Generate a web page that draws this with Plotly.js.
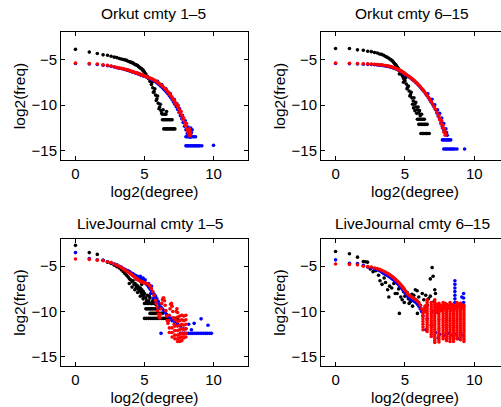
<!DOCTYPE html>
<html>
<head>
<meta charset="utf-8">
<script src="https://cdn.plot.ly/plotly-3.0.1.min.js"></script>
<style>
html,body{margin:0;padding:0;background:#fff;overflow:hidden;width:501px;height:407px;}
#plot{width:520px;height:407px;}
</style>
</head>
<body>
<div id="plot"></div>
<script>
// ---------- DATA ----------
// shared log2(degree) grid used by the main curves
const XG = [0,1,1.58,2,2.32,2.58,2.81,3,3.17,3.32,3.46,3.58,3.7,3.81,3.91,4,4.09,4.17,4.25,4.32,4.39,4.46,4.52,4.58,4.64,4.7,4.75,4.81,4.86,4.91,4.95,5,5.1,5.2,5.3,5.4,5.5,5.6,5.7,5.8,5.9,6,6.1,6.2,6.3,6.4,6.5,6.6,6.7,6.8,6.9,7,7.1,7.2,7.3,7.4,7.5,7.6,7.7,7.8,7.9,8,8.1,8.2,8.3];

const titles = ["Orkut cmty 1\u20135","Orkut cmty 6\u201315","LiveJournal cmty 1\u20135","LiveJournal cmty 6\u201315"];
const xTickVals = [0,5,10];
const yTickVals = [-15,-10,-5];

// Orkut cmty 1-5
const ork1_black_y = [-3.9,-4.2,-4.35,-4.5,-4.55,-4.65,-4.75,-4.8,-4.9,-4.95,-5.0,-5.05,-5.1,-5.2,-5.25,-5.3,-5.35,-5.4,-5.5,-5.55,-5.6,-5.65,-5.7,-5.8,-5.85,-5.95,-6.0,-6.05,-6.15,-6.2,-6.3,-6.4,-6.6,-6.85,-7.1,-7.4,-7.75,-8.1,-8.5,-8.9,-9.3,-9.8,-10.2,-10.6,-11.0];
const ork1_black_extra = [[5.55,-7.5],[5.65,-8.6],[5.75,-8.2],[5.85,-9.5],[5.95,-9.0],[6.05,-10.4],[6.15,-9.9],[6.25,-10.9],[6.35,-10.5],[6.45,-11.0],[6.55,-11.0],[6.6,-10.7]];
const ork1_black_bands = [[-11.6,[6.3,6.4,6.5,6.6,6.7,6.8,6.9,7.0]],[-12.6,[6.4,6.5,6.6,6.7,6.8,6.9,7.0,7.1,7.2]]];
const ork1_blue_y = [-5.45,-5.5,-5.55,-5.63,-5.68,-5.75,-5.83,-5.9,-5.96,-6.0,-6.05,-6.1,-6.15,-6.2,-6.25,-6.3,-6.35,-6.39,-6.43,-6.46,-6.5,-6.53,-6.56,-6.6,-6.63,-6.66,-6.69,-6.73,-6.76,-6.79,-6.81,-6.83,-6.9,-6.97,-7.03,-7.1,-7.17,-7.25,-7.34,-7.45,-7.56,-7.68,-7.81,-7.95,-8.09,-8.25,-8.41,-8.58,-8.76,-8.96,-9.17,-9.4,-9.65,-9.9,-10.18,-10.48,-10.8,-11.15,-11.5,-11.9,-12.3,-12.7,-13.1,-13.4,-13.5];
const ork1_blue_extra = [[5.95,-7.4],[6.25,-7.75],[6.55,-8.2],[6.85,-8.7],[7.15,-9.35],[7.35,-9.85],[7.55,-10.4],[7.75,-11.1],[7.95,-11.7],[8.15,-12.4],[8.35,-12.5],[8.45,-12.7],[8.4,-13.0],[10.0,-14.4]];
const ork1_blue_bands = [[-13.45,[8.0,8.1,8.2,8.3,8.4,8.5,8.6,8.7]],[-14.45,[8.0,8.1,8.2,8.3,8.4,8.5,8.6,8.7,8.8,8.9,9.0,9.15]]];
const ork1_red_y = [-5.4,-5.45,-5.5,-5.6,-5.65,-5.72,-5.8,-5.88,-5.93,-5.98,-6.02,-6.07,-6.12,-6.17,-6.22,-6.27,-6.32,-6.36,-6.4,-6.43,-6.47,-6.5,-6.53,-6.57,-6.6,-6.63,-6.66,-6.7,-6.73,-6.76,-6.78,-6.8,-6.86,-6.92,-6.98,-7.04,-7.1,-7.17,-7.25,-7.35,-7.45,-7.55,-7.67,-7.8,-7.93,-8.07,-8.22,-8.38,-8.55,-8.73,-8.93,-9.15,-9.38,-9.62,-9.88,-10.15,-10.45,-10.77,-11.1,-11.45,-11.85,-12.25,-12.65,-13.05,-13.35];
const ork1_red_extra = [[7.45,-10.05],[7.55,-10.8],[7.65,-10.7],[7.75,-11.5],[7.85,-11.4],[7.95,-12.2],[8.05,-12.0],[8.15,-12.9],[8.25,-12.6],[8.3,-12.9],[8.35,-13.2],[8.25,-13.3],[7.05,-9.4],[6.85,-8.9],[6.65,-8.5],[7.25,-9.85]];

// Orkut cmty 6-15
const ork2_black_y = [-3.8,-3.8,-3.95,-4.0,-4.1,-4.15,-4.25,-4.3,-4.4,-4.45,-4.55,-4.65,-4.75,-4.85,-4.95,-5.05,-5.15,-5.3,-5.45,-5.55,-5.7,-5.85,-6.0,-6.15,-6.3,-6.45,-6.6,-6.75,-6.9,-7.05,-7.2,-7.35,-7.7,-8.05,-8.45,-8.85,-9.2,-9.55,-9.9,-10.2,-10.5,-10.85,-11.15];
const ork2_black_extra = [[4.6,-6.6],[4.75,-6.3],[4.9,-7.5],[5.05,-7.0],[5.15,-8.2],[5.25,-7.9],[5.35,-9.0],[5.45,-8.6],[5.55,-9.9],[5.65,-9.2],[5.62,-10.3],[5.72,-10.6],[5.78,-9.7],[5.85,-10.9],[5.95,-10.2],[6.05,-10.6],[6.2,-11.0]];
const ork2_black_bands = [[-11.55,[5.9,6.0,6.1,6.2,6.3,6.4]],[-12.1,[6.0,6.1,6.2,6.3,6.4,6.5,6.6]],[-13.1,[6.15,6.25,6.35,6.45,6.55,6.65,6.75]]];
const ork2_blue_y = [-5.45,-5.47,-5.5,-5.52,-5.54,-5.55,-5.58,-5.6,-5.63,-5.65,-5.68,-5.71,-5.74,-5.77,-5.81,-5.85,-5.89,-5.93,-5.97,-6.01,-6.05,-6.1,-6.15,-6.2,-6.25,-6.3,-6.35,-6.41,-6.46,-6.51,-6.55,-6.6,-6.7,-6.8,-6.91,-7.03,-7.15,-7.27,-7.4,-7.55,-7.7,-7.85,-8.02,-8.2,-8.38,-8.57,-8.77,-8.98,-9.2,-9.43,-9.67,-9.93,-10.2,-10.5,-10.85,-11.2,-11.5,-11.9,-12.3,-12.7,-13.0];
const ork2_blue_extra = [[6.65,-8.75],[6.95,-9.35],[7.15,-9.95],[7.35,-10.5],[7.5,-10.9],[7.65,-11.4],[7.8,-12.0],[7.95,-12.6],[8.0,-13.0],[8.05,-13.3],[9.3,-14.8]];
const ork2_blue_bands = [[-13.8,[7.7,7.8,7.9,8.0,8.1,8.2,8.3]],[-14.8,[7.8,7.9,8.0,8.1,8.2,8.3,8.4,8.5,8.6,8.75]]];
const ork2_red_y = [-5.4,-5.42,-5.45,-5.47,-5.49,-5.5,-5.53,-5.55,-5.58,-5.6,-5.63,-5.66,-5.69,-5.72,-5.76,-5.8,-5.84,-5.88,-5.92,-5.96,-6.0,-6.05,-6.1,-6.15,-6.2,-6.25,-6.3,-6.36,-6.41,-6.46,-6.5,-6.55,-6.65,-6.75,-6.86,-6.98,-7.1,-7.22,-7.35,-7.5,-7.65,-7.8,-7.97,-8.15,-8.33,-8.52,-8.72,-8.93,-9.15,-9.38,-9.62,-9.88,-10.15,-10.45,-10.8,-11.2,-11.6,-12.05,-12.5,-12.95,-13.3];
const ork2_red_extra = [[7.65,-11.7],[7.75,-12.2],[7.85,-12.6],[7.9,-12.9],[7.95,-13.2],[7.45,-11.1],[7.55,-11.5]];

// LiveJournal cmty 1-5
const lj1_black_y = [-2.7,-3.5,-3.7,-4.35,-4.55,-4.7,-4.9,-5.05,-5.2,-5.4,-5.6,-5.8,-6.0,-6.2,-6.4,-6.5,-6.7,-6.6,-7.0,-6.9,-7.3,-7.1,-7.5,-7.3,-7.7,-7.4,-7.9,-7.6,-8.1,-7.8,-8.3,-8.0,-8.5,-8.2,-8.8,-8.5,-9.1,-8.8];
const lj1_black_extra = [[3.9,-6.9],[4.1,-7.3],[4.3,-7.6],[4.5,-7.9],[4.7,-8.3],[4.9,-8.6],[5.15,-8.8],[5.35,-8.3],[5.7,-8.6],[5.8,-9.2],[5.9,-8.9],[6.0,-9.5],[4.4,-6.4],[4.8,-7.0]];
const lj1_black_bands = [[-9.1,[5.0,5.1,5.2,5.3,5.4,5.5,5.6,5.7,5.8]],[-9.7,[5.1,5.2,5.3,5.4,5.5,5.6,5.7,5.8,5.9,6.0]],[-10.2,[5.4,5.5,5.6,5.7,5.8,5.9,6.0,6.1,6.2,6.3]],[-10.75,[5.0,5.15,5.3,5.45,5.6,5.75,5.9,6.05,6.2,6.35,6.5,6.65,6.8,6.95,7.1,7.25,7.4]]];
const lj1_blue_y = [-3.5,-4.15,-4.3,-4.35,-4.5,-4.6,-4.75,-4.85,-5.0,-5.1,-5.25,-5.35,-5.45,-5.5,-5.6,-5.7,-5.8,-5.85,-5.95,-6.0,-6.05,-6.1,-6.15,-6.2,-6.25,-6.3,-6.35,-6.4,-6.5,-6.55,-6.6,-6.65,-6.9,-7.1,-7.3,-7.5,-7.7,-7.9,-8.1,-8.3,-8.6,-8.9,-9.2,-9.5,-9.7,-9.9,-10.1,-10.3,-10.5,-10.6,-10.8,-11.0];
const lj1_blue_extra = [[5.3,-6.9],[5.5,-7.2],[5.45,-8.0],[5.65,-8.5],[5.85,-9.0],[6.05,-9.6],[4.7,-6.1],[4.9,-6.3],[5.05,-6.5],[7.2,-11.2],[7.4,-11.4],[7.6,-11.6],[7.8,-11.9],[8.0,-11.9],[8.2,-11.4],[8.6,-11.3],[9.1,-10.8],[9.6,-11.5],[6.2,-12.4],[8.4,-12.0]];
const lj1_blue_bands = [[-12.4,[7.6,7.75,7.9,8.05,8.2,8.35,8.5,8.65,8.8,8.95,9.1,9.25,9.4,9.55,9.7,9.85]]];
const lj1_red_y = [-4.2,-4.25,-4.33,-4.4,-4.5,-4.6,-4.75,-4.9,-5.0,-5.15,-5.3,-5.4,-5.55,-5.65,-5.75,-5.85,-5.95,-6.05,-6.15,-6.25,-6.35,-6.4,-6.5,-6.55,-6.6,-6.65,-6.7,-6.72,-6.75,-6.78,-6.8,-6.82,-6.88,-6.95,-7.05,-7.2,-7.45,-7.8,-8.2];
const lj1_red_extra = [[5.8,-8.75],[5.85,-9.1],[5.9,-9.5],[5.95,-9.9],[6.0,-10.3],[6.05,-10.6],[6.1,-10.7],[6.15,-10.3],[6.2,-9.7],[6.25,-9.1],[6.3,-8.7],[6.35,-8.5],[6.4,-8.5],[6.45,-8.8],[6.5,-9.3],[6.55,-9.9],[6.6,-10.5],[6.65,-11.0],[6.7,-11.3],[6.75,-11.0],[6.8,-10.4],[6.85,-9.7],[6.9,-9.2],[6.95,-9.1],[7.0,-9.4],[7.05,-10.0],[7.1,-10.7],[7.15,-11.4],[7.2,-11.6],[7.25,-10.9],[7.3,-10.0],[7.35,-9.7],[7.4,-10.1]];
const lj1_red_cols = [[6.8,[-11.8,-12.3]],[7.0,[-11.8,-12.3,-12.8]],[7.2,[-12.1,-12.6,-13.0]],[7.4,[-10.6,-11.1,-11.6,-12.1,-12.6,-13.0,-13.3]],[7.55,[-10.5,-11.0,-11.5,-12.0,-12.5,-12.9,-13.3]],[7.7,[-10.4,-10.9,-11.4,-11.9,-12.4,-12.8,-13.2]],[7.85,[-10.5,-11.0,-11.5,-12.0,-12.5,-12.9]],[8.0,[-10.4,-10.9,-11.4,-11.9,-12.4,-12.8]]];

// LiveJournal cmty 6-15
const lj2_black_y = [-3.37,-3.63,-4.0,-4.48];
const lj2_black_extra = [[2.15,-4.5],[2.3,-4.55],[2.5,-5.3],[2.7,-5.6],[2.9,-5.5],[3.1,-6.0],[3.2,-6.6],[3.35,-7.0],[3.5,-6.3],[3.6,-6.8],[3.75,-7.6],[3.84,-8.4],[3.9,-7.2],[4.05,-7.4],[4.2,-6.9],[4.3,-8.0],[4.44,-8.0],[4.55,-7.5],[4.6,-10.2],[4.7,-8.4],[4.8,-8.7],[4.9,-7.8],[5.0,-8.3],[5.16,-7.9],[5.25,-8.6],[5.4,-8.9],[5.5,-8.1],[5.64,-8.2],[5.75,-7.6],[5.88,-7.7],[5.9,-10.2],[6.0,-8.4],[6.12,-9.3],[6.25,-8.0],[6.36,-8.7],[6.5,-8.2],[6.6,-9.3],[6.7,-8.6],[6.83,-8.3],[6.83,-6.4],[6.96,-5.15],[7.03,-6.1],[7.1,-8.9],[7.2,-8.0],[7.3,-9.3],[7.15,-7.6],[5.3,-9.1],[5.55,-9.4],[4.95,-9.0],[6.45,-9.6]];
const lj2_blue_y = [-4.3,-4.67,-4.7,-4.9,-5.1,-5.2,-5.3,-5.4,-5.5,-5.65,-5.8,-5.9,-6.0,-6.1,-6.2,-6.3,-6.4,-6.5,-6.6,-6.7,-6.8,-6.9,-7.0,-7.1,-7.2,-7.3,-7.4,-7.5,-7.6,-7.7,-7.8,-7.9,-8.1,-8.3,-8.5,-8.6,-8.7,-8.8,-8.9,-9.0,-9.2,-9.4,-9.7,-10.0];
const lj2_blue_extra = [[6.5,-12.0],[6.3,-10.5],[6.6,-10.8],[6.9,-11.5],[7.2,-12.3],[7.5,-12.5],[7.8,-12.6],[8.1,-12.4],[8.4,-12.6],[8.7,-12.5],[9.0,-12.3],[9.2,-12.6],[6.95,-10.0],[7.35,-9.6],[7.7,-9.8],[8.0,-9.6],[8.3,-9.5],[9.23,-8.0],[9.23,-8.5],[9.23,-9.0],[9.23,-9.5],[9.1,-8.4],[7.4,-12.9],[8.0,-13.0],[8.8,-13.0]];
const lj2_blue_cols = [[8.6,[-6.6,-7.0,-7.4,-7.8,-8.2,-8.6,-9.0,-9.4]]];
const lj2_red_y = [-4.75,-4.8,-4.85,-5.0,-5.05,-5.1,-5.2,-5.25,-5.35,-5.45,-5.55,-5.65,-5.75,-5.85,-5.95,-6.05,-6.15,-6.25,-6.35,-6.45,-6.55,-6.65,-6.75,-6.85,-6.95,-7.05,-7.15,-7.25,-7.35,-7.45,-7.55,-7.65,-7.85,-8.05,-8.2,-8.3,-8.4,-8.5,-8.6,-8.7,-8.85,-9.0,-9.3,-9.7];
const lj2_red_cols = [
  [6.3,[-9.9,-10.2,-10.5,-10.8,-11.1,-11.4,-11.7,-12.0]],
  [6.45,[-9.4,-9.7,-10.0]],
  [6.6,[-8.7,-8.95,-9.2,-9.45,-9.7,-9.95,-10.2,-10.45,-10.7,-10.95,-11.2,-11.45,-11.7,-11.95,-12.2]],
  [6.9,[-9.0,-9.25,-9.5,-9.75,-10.0,-10.25,-10.5,-10.75,-11.0,-11.25,-11.5,-11.75,-12.0,-12.25,-12.5,-12.75]],
  [7.15,[-8.7,-8.95,-9.2,-9.45,-9.7,-9.95,-10.2,-10.45,-10.7,-10.95,-11.2,-11.45,-11.7,-11.95,-12.2,-12.45,-12.7,-12.95,-13.2,-13.4]],
  [7.3,[-9.2,-9.5,-9.8,-10.1]],
  [7.45,[-9.1,-9.35,-9.6,-9.85,-10.1,-10.35,-10.6,-10.85,-11.1,-11.35,-11.6,-11.85,-12.1,-12.35,-12.6,-12.85,-13.1,-13.35]],
  [7.6,[-9.3,-9.6,-9.9]],
  [7.75,[-9.0,-9.25,-9.5,-9.75,-10.0,-10.25,-10.5,-10.75,-11.0,-11.25,-11.5,-11.75,-12.0,-12.25,-12.5,-12.75,-13.0]],
  [7.9,[-9.1,-9.4,-9.7]],
  [8.0,[-9.2,-9.45,-9.7,-9.95,-10.2,-10.45,-10.7,-10.95,-11.2,-11.45,-11.7,-11.95,-12.2,-12.45,-12.7,-12.95,-13.2]],
  [8.15,[-9.3,-9.6]],
  [8.25,[-9.0,-9.25,-9.5,-9.75,-10.0,-10.25,-10.5,-10.75,-11.0,-11.25,-11.5,-11.75,-12.0,-12.25,-12.5,-12.75,-13.0,-13.3]],
  [8.4,[-9.2,-9.5,-9.8]],
  [8.5,[-9.3,-9.55,-9.8,-10.05,-10.3,-10.55,-10.8,-11.05,-11.3,-11.55,-11.8,-12.05,-12.3,-12.55,-12.8,-13.05,-13.3]],
  [8.65,[-9.4,-9.7]],
  [8.75,[-9.0,-9.25,-9.5,-9.75,-10.0,-10.25,-10.5,-10.75,-11.0,-11.25,-11.5,-11.75,-12.0,-12.25,-12.5,-12.75,-13.0]],
  [8.9,[-9.2,-9.5]],
  [9.0,[-9.1,-9.35,-9.6,-9.85,-10.1,-10.35,-10.6,-10.85,-11.1,-11.35,-11.6,-11.85,-12.1,-12.35,-12.6,-12.85,-13.1]],
  [9.15,[-9.3,-9.6]],
  [9.25,[-9.3,-9.55,-9.8,-10.05,-10.3,-10.55,-10.8,-11.05,-11.3,-11.55,-11.8,-12.05,-12.3,-12.55,-12.8,-13.05,-13.3]]
];

// ---------- BUILD ----------
function series(gridY, extra, bands, cols){
  const x=[],y=[];
  (gridY||[]).forEach((v,i)=>{ if(v!==null){x.push(XG[i]);y.push(v);} });
  (extra||[]).forEach(p=>{x.push(p[0]);y.push(p[1]);});
  (bands||[]).forEach(b=>b[1].forEach(xx=>{x.push(xx);y.push(b[0]);}));
  (cols||[]).forEach(c=>c[1].forEach(yy=>{x.push(c[0]);y.push(yy);}));
  return {x,y};
}
const COLORS={black:'#000000',blue:'#0000ff',red:'#ff0000'};
const panelData=[
  {black:series(ork1_black_y,ork1_black_extra,ork1_black_bands),blue:series(ork1_blue_y,ork1_blue_extra,ork1_blue_bands),red:series(ork1_red_y,ork1_red_extra)},
  {black:series(ork2_black_y,ork2_black_extra,ork2_black_bands),blue:series(ork2_blue_y,ork2_blue_extra,ork2_blue_bands),red:series(ork2_red_y,ork2_red_extra)},
  {black:series(lj1_black_y,lj1_black_extra,lj1_black_bands),blue:series(lj1_blue_y,lj1_blue_extra,lj1_blue_bands),red:series(lj1_red_y,lj1_red_extra,null,lj1_red_cols)},
  {black:series(lj2_black_y,lj2_black_extra),blue:series(lj2_blue_y,lj2_blue_extra,null,lj2_blue_cols),red:series(lj2_red_y,null,null,lj2_red_cols)}
];

const W=520,H=407;
const boxes=[ // px: left,right,top,bottom
  [61,248,32,160],[321,509,32,160],[61,248,239,366],[321,509,239,366]
];
const FONT='Liberation Sans, Arial, Helvetica, sans-serif';
const traces=[];
panelData.forEach((p,i)=>{
  const s=i===0?'':String(i+1);
  ['black','blue','red'].forEach(k=>{
    traces.push({type:'scatter',mode:'markers',x:p[k].x,y:p[k].y,xaxis:'x'+s,yaxis:'y'+s,
      marker:{color:COLORS[k],size:3.6,line:{width:0}},showlegend:false,hoverinfo:'skip'});
  });
});
const layout={width:W,height:H,margin:{l:0,r:0,t:0,b:0},paper_bgcolor:'#fff',plot_bgcolor:'#fff',showlegend:false,
  font:{family:FONT,color:'#000'},annotations:[]};
const titleX=[153,412,150,412.5], titleY=[14,14,223,223];
boxes.forEach((b,i)=>{
  const s=i===0?'':String(i+1);
  layout['xaxis'+s]={domain:[b[0]/W,b[1]/W],anchor:'y'+s,range:[-1.05,12.5],tickvals:xTickVals,ticktext:xTickVals.map(String),
    ticks:'inside',ticklen:4,tickcolor:'#000',showline:true,mirror:'ticks',linecolor:'#000',linewidth:1,showgrid:false,zeroline:false,
    tickfont:{family:FONT,size:15,color:'#000'},automargin:false,ticklabelstandoff:0,
    title:{text:'log2(degree)',font:{family:FONT,size:15.5,color:'#000'},standoff:5}};
  layout['yaxis'+s]={domain:[(H-b[3])/H,(H-b[2])/H],anchor:'x'+s,range:[-16,-2],tickvals:yTickVals,
    ticks:'inside',ticklen:4,tickcolor:'#000',showline:true,mirror:'ticks',linecolor:'#000',linewidth:1,showgrid:false,zeroline:false,
    tickfont:{family:FONT,size:15,color:'#000'},automargin:false,
    title:{text:'log2(freq)',font:{family:FONT,size:15.5,color:'#000'},standoff:2}};
  layout.annotations.push({text:titles[i],xref:'paper',yref:'paper',x:titleX[i]/W,y:1-titleY[i]/H,xanchor:'center',yanchor:'middle',
    showarrow:false,font:{family:FONT,size:15.5,color:'#000'}});
});
Plotly.newPlot('plot',traces,layout,{staticPlot:true,displayModeBar:false});
</script>
</body>
</html>
